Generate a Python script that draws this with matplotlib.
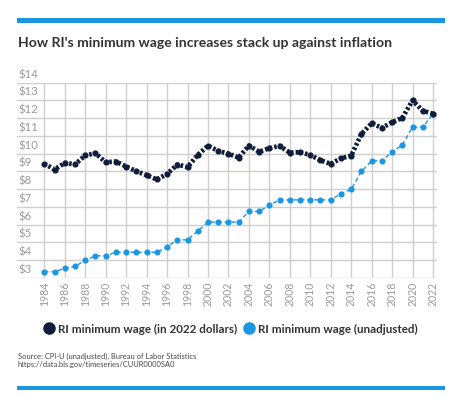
import matplotlib
matplotlib.use("Agg")
import matplotlib.pyplot as plt
from matplotlib.lines import Line2D
from matplotlib.patches import Rectangle

years = list(range(1984, 2023))
adjusted = [9.44, 9.11, 9.48, 9.40, 9.90, 10.03, 9.52, 9.56, 9.28, 9.01,
            8.79, 8.55, 8.86, 9.39, 9.25, 9.93, 10.45, 10.16, 10.00, 9.78,
            10.46, 10.11, 10.31, 10.44, 10.06, 10.09, 9.93, 9.63, 9.43, 9.74,
            9.89, 11.11, 11.71, 11.46, 11.77, 12.02, 13.00, 12.42, 12.25]
unadjusted = [3.35, 3.35, 3.55, 3.65, 4.00, 4.25, 4.25, 4.45, 4.45, 4.45,
              4.45, 4.45, 4.75, 5.15, 5.15, 5.65, 6.15, 6.15, 6.15, 6.15,
              6.75, 6.75, 7.10, 7.40, 7.40, 7.40, 7.40, 7.40, 7.40, 7.75,
              8.00, 9.00, 9.60, 9.60, 10.10, 10.50, 11.50, 11.50, 12.25]
ytick_vals = list(range(3, 15))
ytick_labels = ["$" + str(v) for v in ytick_vals]
xtick_vals = list(range(1984, 2023, 2))
xtick_labels = [str(v) for v in xtick_vals]
series_names = ["RI minimum wage (in 2022 dollars)", "RI minimum wage (unadjusted)"]
title = "How RI's minimum wage increases stack up against inflation"
source_lines = ["Source: CPI-U (unadjusted), Bureau of Labor Statistics",
                "https://data.bls.gov/timeseries/CUUR0000SA0"]

W, H = 463, 400
plt.rcParams['font.family'] = ['Lato', 'DejaVu Sans']
fig = plt.figure(figsize=(W / 100, H / 100), dpi=100)
fig.patch.set_facecolor('white')

BLUE = '#1b96e2'
NAVY = '#0f1c3a'
GRID = '#cfcfcf'
TICK = '#9a9a9a'
TEXT = '#333333'

def fx(px):
    return px / W

def fy(py):
    return 1 - py / H

# top & bottom bars
fig.add_artist(Rectangle((fx(17), fy(22.5)), fx(445) - fx(17), 4.3 / H,
                         transform=fig.transFigure, color=BLUE, lw=0))
fig.add_artist(Rectangle((fx(17), fy(390)), fx(445) - fx(17), 4.3 / H,
                         transform=fig.transFigure, color=BLUE, lw=0))

fig.text(fx(18), fy(43), title, fontsize=10.1, fontweight='bold', color=TEXT,
         va='center', ha='left')

# axes
left_px, right_px, top_px, bot_px = 17, 437, 82.7, 278
ax = fig.add_axes([fx(left_px), fy(bot_px), fx(right_px) - fx(left_px), (bot_px - top_px) / H])
x0_px, x1_px = 44.3, 433.0
ppy = (x1_px - x0_px) / 38
ax.set_xlim(1984 - (x0_px - left_px) / ppy, 2022 + (right_px - x1_px) / ppy)
ax.set_ylim(3, 14)
for s in ax.spines.values():
    s.set_visible(False)
ax.set_xticks([])
ax.set_yticks([])

for v in ytick_vals:
    ax.axhline(v, color=GRID, lw=1, zorder=0)
for v in xtick_vals:
    ax.plot([v, v], [3, 14], color=GRID, lw=1, zorder=0)

ax.plot(years, unadjusted, color=BLUE, lw=1.0, ls=(0, (3, 2)), marker='o', ms=3.4,
        zorder=3, clip_on=False)
ax.plot(years, adjusted, color=NAVY, lw=3.4, ls=(0, (0.55, 0.45)), marker='o', ms=3.4,
        zorder=4, clip_on=False, dash_capstyle='butt')

# y labels above gridlines
for v, lab in zip(ytick_vals, ytick_labels):
    ax.annotate(lab, xy=(0, v), xycoords=('axes fraction', 'data'),
                xytext=(1, 2.5), textcoords='offset pixels',
                ha='left', va='bottom', fontsize=8.2, color=TICK)

# x labels rotated
for v, lab in zip(xtick_vals, xtick_labels):
    ax.annotate(lab, xy=(v, 3), xycoords='data', xytext=(0, -4),
                textcoords='offset pixels', ha='center', va='top',
                rotation=90, fontsize=7.6, color=TICK)

handles = [Line2D([], [], ls='none', marker='o', ms=8, color=NAVY),
           Line2D([], [], ls='none', marker='o', ms=8, color=BLUE)]
leg = fig.legend(handles, series_names, loc='center', bbox_to_anchor=(fx(231), fy(329)),
                 ncol=2, frameon=False, handletextpad=0.3, columnspacing=0.7,
                 handlelength=0.8, prop={'weight': 'bold', 'size': 8.4})
for t in leg.get_texts():
    t.set_color(TEXT)

fig.text(fx(18), fy(356.5), source_lines[0], fontsize=5.4, color='#444444', va='center', ha='left')
fig.text(fx(18), fy(364), source_lines[1], fontsize=5.4, color='#444444', va='center', ha='left')

fig.savefig('out.png', dpi=100, facecolor='white')
